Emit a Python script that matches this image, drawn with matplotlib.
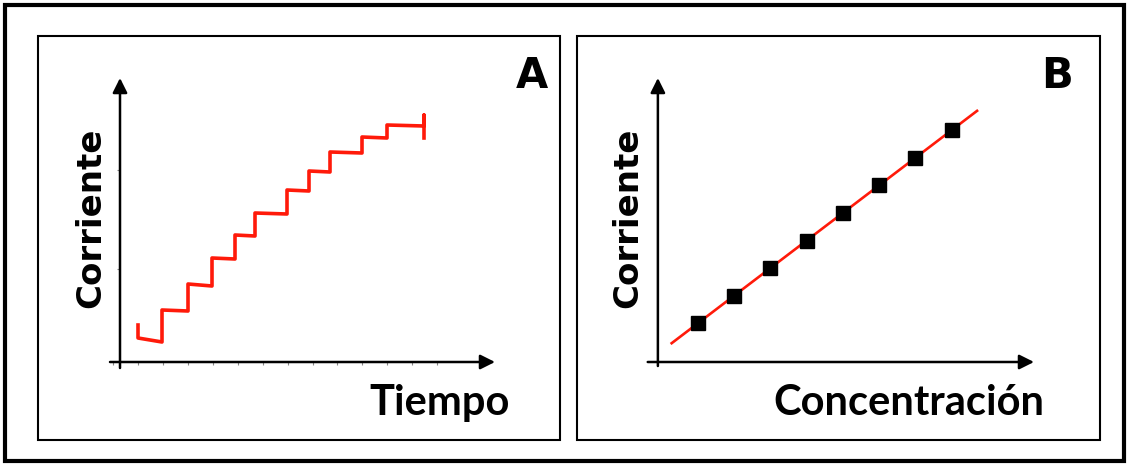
import numpy as np
import matplotlib
matplotlib.use("Agg")
import matplotlib.pyplot as plt
from matplotlib.patches import Rectangle

# Panel A: stepwise amperometric trace (time in steps, current in a.u.)
plateau_start_t = [0.72, 1.68, 2.72, 3.68, 4.60, 5.40, 6.68, 7.56, 8.40, 9.68, 10.68]
plateau_end_t = [1.68, 2.72, 3.68, 4.60, 5.40, 6.68, 7.56, 8.40, 9.68, 10.68, 12.16]
plateau_start_i = [2.4, 5.2, 7.8, 10.4, 12.7, 14.9, 17.2, 19.1, 21.0, 22.5, 23.7]
plateau_end_i = [2.0, 5.1, 7.6, 10.3, 12.6, 14.8, 17.1, 19.0, 20.9, 22.4, 23.6]
spike_start_i = 3.7
spike_end_top = 24.7
spike_end_bottom = 22.4

# Panel B: calibration points
conc = [1, 2, 3, 4, 5, 6, 7, 8]
current = [3.9, 6.6, 9.4, 12.1, 14.9, 17.7, 20.4, 23.2]

W, H = 1129, 466
fig = plt.figure(figsize=(W / 100, H / 100), dpi=100)
fig.patch.set_facecolor("white")

# background axes in pixel units for frames and labels
bg = fig.add_axes([0, 0, 1, 1])
bg.set_xlim(0, W)
bg.set_ylim(H, 0)
bg.axis("off")
bg.add_patch(Rectangle((5, 5), W - 10, H - 10, fill=False, lw=3.0, ec="black"))
bg.add_patch(Rectangle((38, 36), 522, 404, fill=False, lw=1.5, ec="black"))
bg.add_patch(Rectangle((577, 36), 523, 404, fill=False, lw=1.5, ec="black"))

lab_font = dict(family="DejaVu Sans", fontweight="bold", color="black")
name_font = dict(family="Lato", fontweight="bold", color="black")
bg.text(532, 76, "A", fontsize=30, ha="center", va="center", **lab_font)
bg.text(1057, 76, "B", fontsize=30, ha="center", va="center", **lab_font)
bg.text(91, 218, "Corriente", fontsize=24.5, rotation=90, ha="center", va="center", **lab_font)
bg.text(628, 218, "Corriente", fontsize=24.5, rotation=90, ha="center", va="center", **lab_font)
bg.text(440, 415, "Tiempo", fontsize=30, ha="center", va="baseline", **name_font)
bg.text(909, 415, "Concentración", fontsize=30, ha="center", va="baseline", **name_font)


def px_axes(x0, x1, y0, y1):
    return fig.add_axes([x0 / W, (H - y1) / H, (x1 - x0) / W, (y1 - y0) / H])


def draw_arrows(ax, x_from, x_to, y_from, y_to, x_at, y_at):
    kw = dict(arrowstyle="-|>", lw=1.8, color="black", mutation_scale=22,
              shrinkA=0, shrinkB=0)
    ax.annotate("", xy=(x_to, y_at), xytext=(x_from, y_at), arrowprops=kw)
    ax.annotate("", xy=(x_at, y_to), xytext=(x_at, y_from), arrowprops=kw)


# ---- Panel A ----
axA = px_axes(108, 495, 78, 370)
axA.set_xlim(-0.48, 15.0)
axA.set_ylim(-0.8, 28.4)
axA.set_facecolor("none")
for s in axA.spines.values():
    s.set_color("none")
axA.spines["bottom"].set_position(("data", 0))
axA.spines["left"].set_position(("data", 0))
axA.set_xticks(np.arange(-0.3, 13.0, 1.0))
axA.set_yticks([9.3, 19.2])
axA.tick_params(length=2.5, width=0.8, color="#888888", labelbottom=False, labelleft=False)

t = [plateau_start_t[0]]
i = [spike_start_i]
for ts, te, is_, ie in zip(plateau_start_t, plateau_end_t, plateau_start_i, plateau_end_i):
    t += [ts, te]
    i += [is_, ie]
t += [plateau_end_t[-1], plateau_end_t[-1]]
i += [spike_end_top, spike_end_bottom]
axA.plot(t, i, color="#ff1a0a", lw=2.6, solid_joinstyle="round")
draw_arrows(axA, -0.4, 15.0, -0.6, 28.4, 0, 0)

# ---- Panel B ----
axB = px_axes(647, 1034, 78, 368)
axB.set_xlim(-0.40, 10.27)
axB.set_ylim(-0.6, 28.4)
axB.set_facecolor("none")
axB.axis("off")
slope, intercept = np.polyfit(conc, current, 1)
xf = np.array([0.28, 8.7])
axB.plot(xf, intercept + slope * xf, color="#ff1a0a", lw=1.9, zorder=2)
axB.plot(conc, current, "s", color="black", ms=9.5, zorder=3)
draw_arrows(axB, -0.38, 10.27, -0.4, 28.4, -0.1, 0)

fig.savefig("out.png", dpi=100)
